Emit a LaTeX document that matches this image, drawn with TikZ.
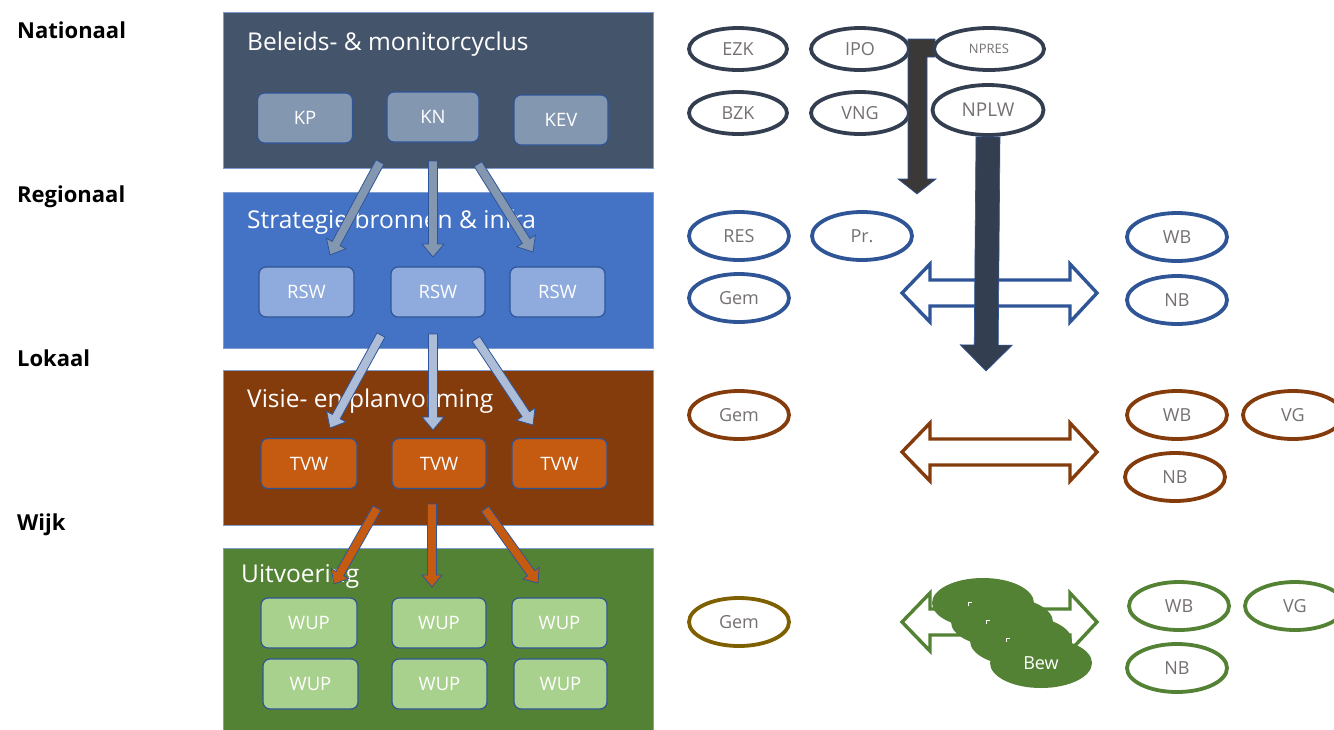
\documentclass[tikz,border=0pt]{standalone}
\usepackage{fontspec}
\setmainfont{Open Sans}
\usetikzlibrary{calc,shapes.geometric}
\definecolor{natbg}{HTML}{44546A}
\definecolor{regbg}{HTML}{4472C4}
\definecolor{lokbg}{HTML}{843C0C}
\definecolor{wijkbg}{HTML}{548235}
\definecolor{natin}{HTML}{8497B0}
\definecolor{regin}{HTML}{8FAADC}
\definecolor{lokin}{HTML}{C55A11}
\definecolor{wijkin}{HTML}{A9D18E}
\definecolor{edgeblue}{HTML}{2F5597}
\definecolor{layeredge}{HTML}{7F9CCF}
\definecolor{arrtwo}{HTML}{ADBDD8}
\definecolor{darkarr}{HTML}{3B3838}
\definecolor{navyarr}{HTML}{333F50}
\definecolor{elltext}{HTML}{767171}
\definecolor{goldedge}{HTML}{7F6000}
\newcommand\blockarr[6]{%
  \path ($(#2)!#5!(#1)$) coordinate (bh);
  \filldraw[#6] ($(#1)!#3!90:(#2)$) -- ($(bh)!#3!90:(#2)$) -- ($(bh)!#4!90:(#2)$) -- (#2)
    -- ($(bh)!#4!-90:(#2)$) -- ($(bh)!#3!-90:(#2)$) -- ($(#1)!#3!-90:(#2)$) -- cycle;}
\newcommand\dblarr[2]{%
  \filldraw[fill=white, draw=#2, line width=3.4, line join=miter]
    (902,#1) -- (930,#1-29) -- (930,#1-13) -- (1070,#1-13) -- (1070,#1-29) -- (1097,#1)
    -- (1070,#1+29) -- (1070,#1+13) -- (930,#1+13) -- (930,#1+29) -- cycle;}
\tikzset{
  level/.style={anchor=base west, inner sep=0, font=\bfseries\fontsize{22}{24}\selectfont, text=black},
  layer/.style={draw=layeredge, line width=0.8, anchor=north west, minimum width=430, inner sep=0},
  ltitle/.style={anchor=base west, text=white, font=\fontsize{24.5}{26}\selectfont, inner sep=0},
  inbox/.style={draw=edgeblue, line width=1.2, rounded corners=7, minimum height=50, text=white, font=\fontsize{18.5}{20}\selectfont, inner sep=0},
  ell/.style={ellipse, line width=3.8, fill=white, minimum width=100, minimum height=48, inner sep=0, text=elltext, font=\fontsize{18}{20}\selectfont},
  arrA/.style={fill=natin, draw=edgeblue, line width=0.8},
  arrB/.style={fill=arrtwo, draw=edgeblue, line width=0.8},
  arrC/.style={fill=lokin, draw=edgeblue, line width=0.8},
  bew/.style={ellipse, fill=wijkbg, minimum width=102, minimum height=50, inner sep=0, text=white, font=\fontsize{18}{20}\selectfont},
}
\begin{document}
\begin{tikzpicture}[x=1pt,y=-1pt]
\useasboundingbox (0,0) rectangle (1334,729);
\fill[white] (0,0) rectangle (1334,729);
% level labels
\node[level] (lnat) at (17,38) {Nationaal};
\node[level] (lreg) at (17,202) {Regionaal};
\node[level] (llok) at (17,366) {Lokaal};
\node[level] (lwijk) at (17,530) {Wijk};
% layers
\node[layer, fill=natbg, minimum height=156] (L1) at (223,12) {};
\node[layer, fill=regbg, minimum height=156] (L2) at (223,192) {};
\node[layer, fill=lokbg, minimum height=155] (L3) at (223,370) {};
\node[layer, fill=wijkbg, minimum height=200] (L4) at (223,548) {};
\node[ltitle] (t1) at (247,50) {Beleids- \& monitorcyclus};
\node[ltitle] (t2) at (247,228) {Strategie bronnen \& infra};
\node[ltitle] (t3) at (247,407) {Visie- en planvorming};
\node[ltitle] (t4) at (241,582) {Uitvoering};
% inner boxes
\node[inbox, fill=natin, minimum width=95] (KP) at (305,118) {KP};
\node[inbox, fill=natin, minimum width=92] (KN) at (433,117) {KN};
\node[inbox, fill=natin, minimum width=94] (KEV) at (561,120) {KEV};
\node[inbox, fill=regin, minimum width=95] (R1) at (306.5,292) {RSW};
\node[inbox, fill=regin, minimum width=94] (R2) at (438,292) {RSW};
\node[inbox, fill=regin, minimum width=95] (R3) at (557.5,292) {RSW};
\node[inbox, fill=lokin, minimum width=96] (T1) at (309,463.5) {TVW};
\node[inbox, fill=lokin, minimum width=94] (T2) at (439,463.5) {TVW};
\node[inbox, fill=lokin, minimum width=95] (T3) at (559.5,463.5) {TVW};
\node[inbox, fill=wijkin, minimum width=96] (W1) at (309,623) {WUP};
\node[inbox, fill=wijkin, minimum width=94] (W2) at (439,623) {WUP};
\node[inbox, fill=wijkin, minimum width=95] (W3) at (559.5,623) {WUP};
\node[inbox, fill=wijkin, minimum width=95] (W4) at (310.5,684) {WUP};
\node[inbox, fill=wijkin, minimum width=95] (W5) at (439.5,684) {WUP};
\node[inbox, fill=wijkin, minimum width=93] (W6) at (560.5,684) {WUP};
% arrow end points
\coordinate (a1s) at (380,162); \coordinate (a1e) at (330,255);
\coordinate (a2s) at (433,161); \coordinate (a2e) at (433,257);
\coordinate (a3s) at (478,164); \coordinate (a3e) at (533,252);
\coordinate (b1s) at (381,335); \coordinate (b1e) at (330,428);
\coordinate (b2s) at (433,334); \coordinate (b2e) at (433,430);
\coordinate (b3s) at (476,339); \coordinate (b3e) at (533,425);
\coordinate (c1s) at (377,508); \coordinate (c1e) at (334,584);
\coordinate (c2s) at (432,504); \coordinate (c2e) at (432,587);
\coordinate (c3s) at (485,509); \coordinate (c3e) at (538,583);
\blockarr{a1s}{a1e}{4.5pt}{11pt}{13pt}{arrA}
\blockarr{a2s}{a2e}{4.5pt}{11pt}{13pt}{arrA}
\blockarr{a3s}{a3e}{4.5pt}{11pt}{13pt}{arrA}
\blockarr{b1s}{b1e}{4.5pt}{11pt}{13pt}{arrB}
\blockarr{b2s}{b2e}{4.5pt}{11pt}{13pt}{arrB}
\blockarr{b3s}{b3e}{4.5pt}{11pt}{13pt}{arrB}
\blockarr{c1s}{c1e}{4.5pt}{10pt}{12pt}{arrC}
\blockarr{c2s}{c2e}{4.5pt}{10pt}{12pt}{arrC}
\blockarr{c3s}{c3e}{4.5pt}{10pt}{12pt}{arrC}
% Nationaal ellipses
\node[ell, draw=navyarr, minimum width=98, minimum height=42] (EZK) at (738,49) {EZK};
\node[ell, draw=navyarr, minimum width=98, minimum height=42] (IPO) at (860,49) {IPO};
\node[ell, draw=navyarr, minimum width=98, minimum height=42] (BZK) at (738,113) {BZK};
\node[ell, draw=navyarr, minimum width=98, minimum height=42] (VNG) at (860,113) {VNG};
% bent dark arrow
\filldraw[fill=darkarr, draw=edgeblue, line width=0.6]
  (908,39) -- (935,39) -- (935,57) -- (927,57) -- (927,179) -- (936,179) -- (917,194)
  -- (898,179) -- (908,179) -- cycle;
\node[ell, draw=navyarr, minimum width=110, minimum height=42, font=\fontsize{13}{15}\selectfont] (NPRES) at (989,49) {NPRES};
\node[ell, draw=navyarr, minimum width=111, minimum height=50, font=\fontsize{19}{21}\selectfont] (NPLW) at (988,110) {NPLW};
% Regionaal
\node[ell, draw=edgeblue] (RES) at (739,236) {RES};
\node[ell, draw=edgeblue] (PR) at (862,236) {Pr.};
\node[ell, draw=edgeblue] (GEM1) at (739,298) {Gem};
\node[ell, draw=edgeblue] (WB1) at (1177,237) {WB};
\node[ell, draw=edgeblue] (NB1) at (1177,300) {NB};
\dblarr{293}{edgeblue}
\coordinate (navyend) at (986,371);
\blockarr{NPLW.south}{navyend}{12pt}{26pt}{26pt}{fill=navyarr, draw=edgeblue, line width=0.6}
% Lokaal
\node[ell, draw=lokbg] (GEM2) at (739,415) {Gem};
\node[ell, draw=lokbg] (WB2) at (1177,415) {WB};
\node[ell, draw=lokbg] (VG2) at (1293,415) {VG};
\node[ell, draw=lokbg] (NB2) at (1175,477) {NB};
\dblarr{452}{lokbg}
% Wijk
\node[ell, draw=goldedge] (GEM3) at (739,622) {Gem};
\node[ell, draw=wijkbg] (WB3) at (1179,606) {WB};
\node[ell, draw=wijkbg] (VG3) at (1295,606) {VG};
\node[ell, draw=wijkbg] (NB3) at (1177,668) {NB};
\dblarr{622}{wijkbg}
\node[bew] (BEW1) at (983,603) {};
\node[bew] (BEW2) at (1002,622) {};
\node[bew] (BEW3) at (1021,641) {};
\node[bew] (BEW4) at (1041,663) {Bew};
\draw[white, line width=0.9] (968,606) -- (968,602) -- (972,602);
\draw[white, line width=0.9] (986,624) -- (986,620) -- (990,620);
\draw[white, line width=0.9] (1006,642) -- (1006,638) -- (1010,638);
\end{tikzpicture}
\end{document}
